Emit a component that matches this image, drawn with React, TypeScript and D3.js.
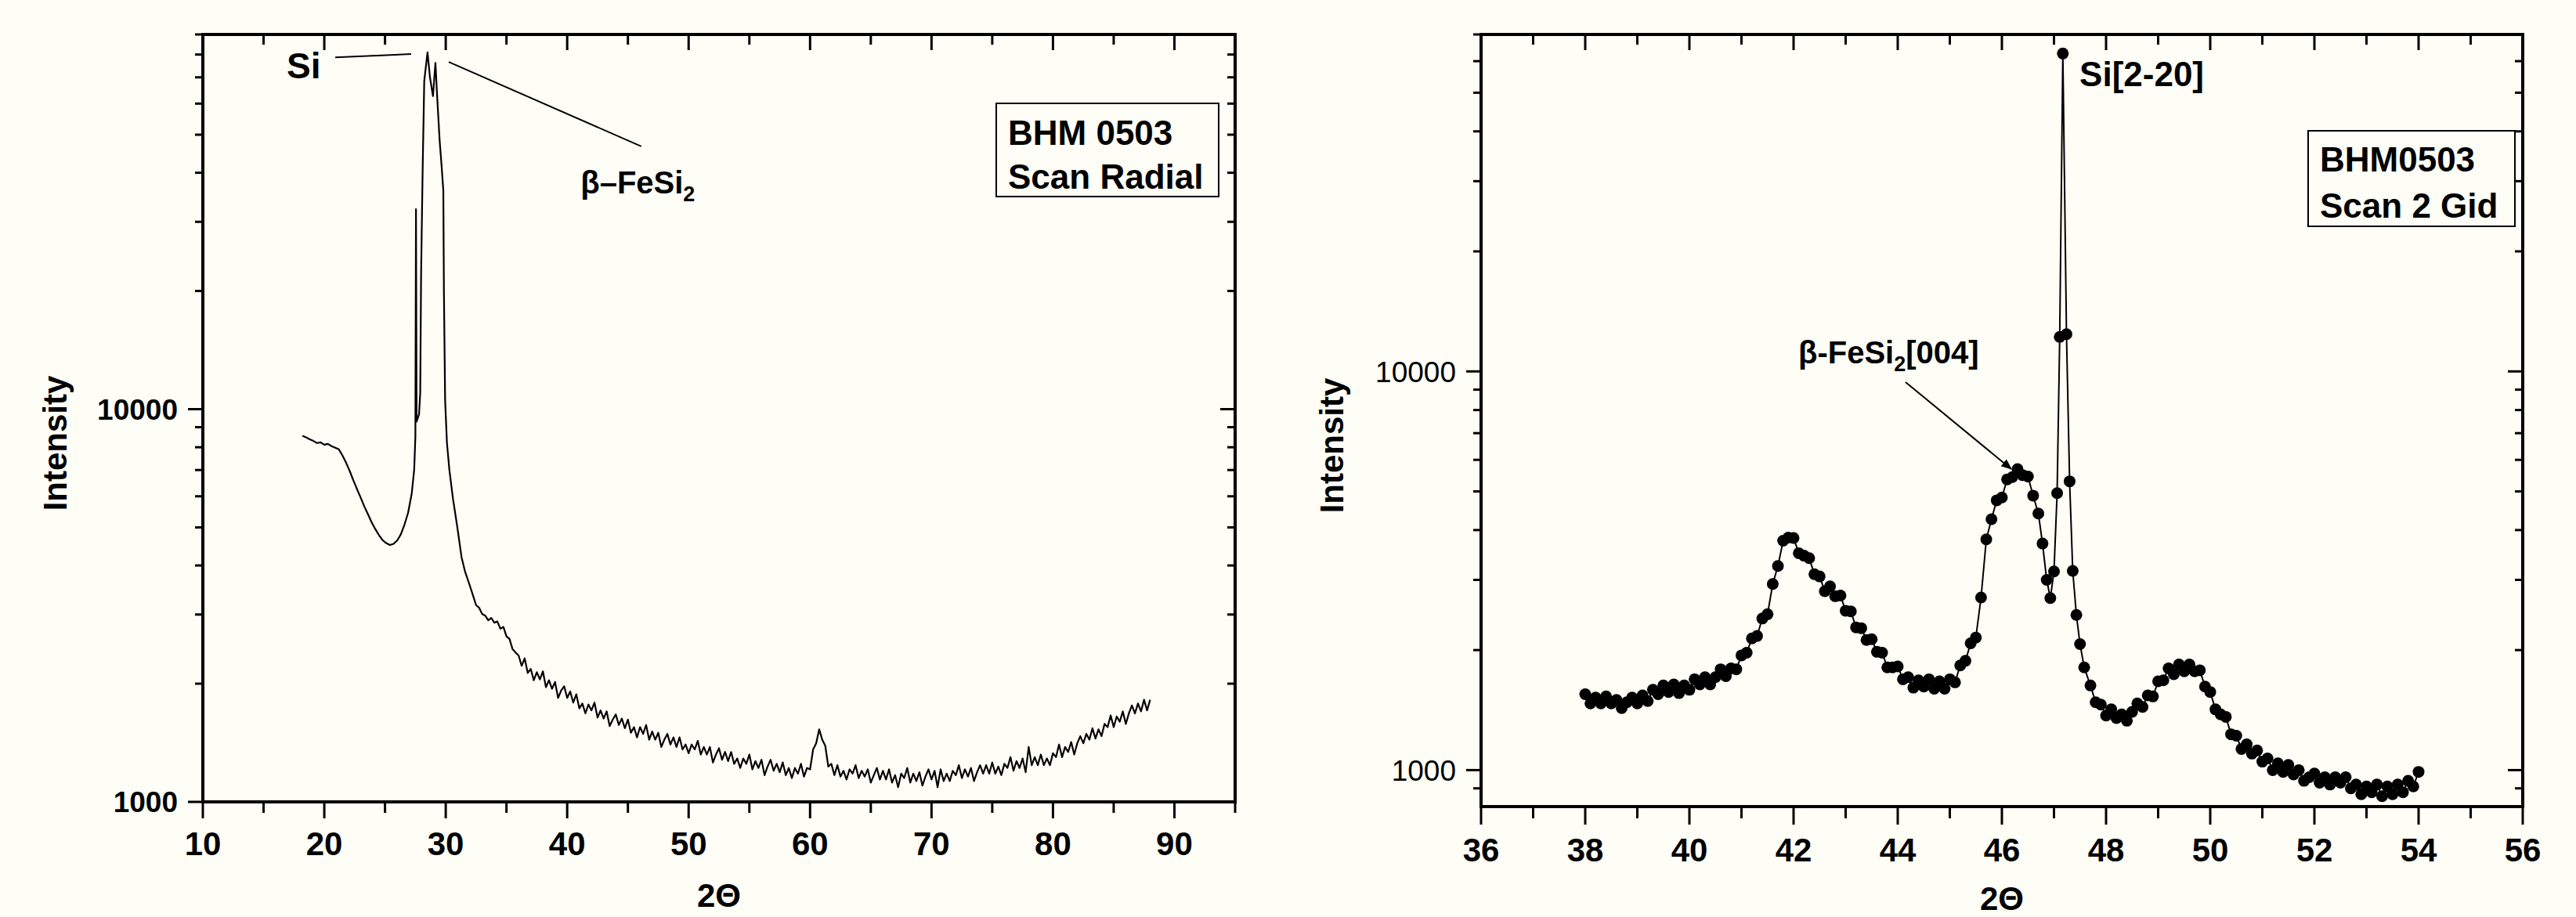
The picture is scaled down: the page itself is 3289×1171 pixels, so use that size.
import React from "react";
import * as d3 from "d3";

const W = 3289;
const H = 1171;
const BG = "#fefef6";
const FONT = "'Liberation Sans', Arial, Helvetica, sans-serif";

// left panel: radial scan (2θ, intensity)
const radialScan: [number, number][] = [
  [18.2, 8560], [18.5, 8480], [18.8, 8380], [19.1, 8300], [19.4, 8200], [19.7, 8230],
  [20.0, 8120], [20.3, 8160], [20.6, 8050], [20.9, 7980], [21.2, 7900], [21.5, 7620],
  [21.8, 7300], [22.1, 6950], [22.4, 6580], [22.7, 6250], [23.0, 5950], [23.3, 5650],
  [23.6, 5400], [23.9, 5150], [24.2, 4950], [24.5, 4780], [24.8, 4640], [25.1, 4560],
  [25.4, 4510], [25.7, 4540], [26.0, 4630], [26.3, 4800], [26.6, 5080], [26.9, 5450],
  [27.2, 6100], [27.4, 7000], [27.5, 8500], [27.55, 32300], [27.6, 9300], [27.8, 9700],
  [27.9, 11000], [27.97, 22000], [28.1, 41000], [28.23, 68500], [28.5, 81000], [28.7, 70000],
  [28.95, 62700], [29.15, 76200], [29.3, 62000], [29.5, 48200], [29.65, 42000], [29.8, 36100],
  [29.85, 20000], [29.95, 10500], [30.1, 8200], [30.3, 7000], [30.6, 5900], [30.94, 5040],
  [31.3, 4200], [31.6, 3850], [31.95, 3580], [32.25, 3350], [32.5, 3170], [32.75, 3120],
  [33.0, 3010], [33.25, 2980], [33.5, 2900], [33.75, 2940], [34.0, 2860], [34.25, 2880],
  [34.5, 2760], [34.75, 2790], [35.0, 2640], [35.25, 2600], [35.5, 2450], [35.75, 2400],
  [36.0, 2360], [36.25, 2220], [36.5, 2320], [36.75, 2130], [37.0, 2180], [37.25, 2040],
  [37.5, 2140], [37.75, 2050], [38.0, 2150], [38.25, 1960], [38.5, 2040], [38.75, 1940],
  [39.0, 2020], [39.25, 1840], [39.5, 1920], [39.75, 1970], [40.0, 1840], [40.25, 1910],
  [40.5, 1790], [40.75, 1880], [41.0, 1730], [41.25, 1780], [41.5, 1680], [41.75, 1770],
  [42.0, 1710], [42.25, 1790], [42.5, 1640], [42.75, 1710], [43.0, 1630], [43.25, 1700],
  [43.5, 1560], [43.75, 1620], [44.0, 1670], [44.25, 1570], [44.5, 1630], [44.75, 1540],
  [45.0, 1620], [45.25, 1500], [45.5, 1550], [45.75, 1460], [46.0, 1550], [46.25, 1490],
  [46.5, 1570], [46.75, 1440], [47.0, 1510], [47.25, 1440], [47.5, 1500], [47.75, 1380],
  [48.0, 1440], [48.25, 1490], [48.5, 1400], [48.75, 1460], [49.0, 1380], [49.25, 1460],
  [49.5, 1360], [49.75, 1400], [50.0, 1330], [50.25, 1400], [50.5, 1360], [50.75, 1430],
  [51.0, 1320], [51.25, 1380], [51.5, 1320], [51.75, 1380], [52.0, 1260], [52.25, 1320],
  [52.5, 1370], [52.75, 1280], [53.0, 1340], [53.25, 1270], [53.5, 1340], [53.75, 1250],
  [54.0, 1290], [54.25, 1220], [54.5, 1290], [54.75, 1250], [55.0, 1320], [55.25, 1210],
  [55.5, 1270], [55.75, 1220], [56.0, 1280], [56.25, 1170], [56.5, 1230], [56.75, 1280],
  [57.0, 1200], [57.25, 1250], [57.5, 1190], [57.75, 1260], [58.0, 1170], [58.25, 1220],
  [58.5, 1150], [58.75, 1220], [59.0, 1180], [59.25, 1250], [59.5, 1160], [59.75, 1220],
  [60.0, 1210], [60.25, 1360], [60.5, 1410], [60.75, 1530], [61.0, 1440], [61.25, 1390],
  [61.5, 1230], [61.75, 1250], [62.0, 1170], [62.25, 1240], [62.5, 1160], [62.75, 1200],
  [63.0, 1140], [63.25, 1210], [63.5, 1180], [63.75, 1240], [64.0, 1150], [64.25, 1200],
  [64.5, 1160], [64.75, 1210], [65.0, 1120], [65.25, 1170], [65.5, 1220], [65.75, 1140],
  [66.0, 1200], [66.25, 1140], [66.5, 1210], [66.75, 1120], [67.0, 1170], [67.25, 1090],
  [67.5, 1180], [67.75, 1150], [68.0, 1220], [68.25, 1120], [68.5, 1180], [68.75, 1130],
  [69.0, 1190], [69.25, 1100], [69.5, 1160], [69.75, 1210], [70.0, 1140], [70.25, 1200],
  [70.5, 1090], [70.75, 1210], [71.0, 1130], [71.25, 1180], [71.5, 1130], [71.75, 1200],
  [72.0, 1170], [72.25, 1240], [72.5, 1150], [72.75, 1210], [73.0, 1160], [73.25, 1220],
  [73.5, 1130], [73.75, 1190], [74.0, 1240], [74.25, 1180], [74.5, 1240], [74.75, 1180],
  [75.0, 1260], [75.25, 1180], [75.5, 1230], [75.75, 1170], [76.0, 1250], [76.25, 1220],
  [76.5, 1300], [76.75, 1200], [77.0, 1270], [77.25, 1220], [77.5, 1290], [77.75, 1190],
  [78.0, 1380], [78.25, 1240], [78.5, 1300], [78.75, 1240], [79.0, 1320], [79.25, 1240],
  [79.5, 1290], [79.75, 1240], [80.0, 1330], [80.25, 1300], [80.5, 1400], [80.75, 1300],
  [81.0, 1380], [81.25, 1340], [81.5, 1420], [81.75, 1320], [82.0, 1410], [82.25, 1470],
  [82.5, 1410], [82.75, 1490], [83.0, 1440], [83.25, 1540], [83.5, 1450], [83.75, 1530],
  [84.0, 1470], [84.25, 1580], [84.5, 1550], [84.75, 1660], [85.0, 1550], [85.25, 1650],
  [85.5, 1600], [85.75, 1700], [86.0, 1580], [86.25, 1680], [86.5, 1760], [86.75, 1680],
  [87.0, 1780], [87.25, 1700], [87.5, 1820], [87.75, 1710], [88.0, 1820],
];
const radialXTicks = [10, 20, 30, 40, 50, 60, 70, 80, 90];
const radialXMinor = [15, 25, 35, 45, 55, 65, 75, 85, 95];

// right panel: grazing incidence scan (2θ, intensity)
const gidScan: [number, number][] = [
  [38.0, 1550], [38.1, 1470], [38.2, 1520], [38.3, 1470], [38.4, 1530], [38.5, 1470],
  [38.6, 1500], [38.7, 1430], [38.8, 1480], [38.9, 1520], [39.0, 1470], [39.1, 1540],
  [39.2, 1490], [39.3, 1590], [39.4, 1550], [39.5, 1630], [39.6, 1570], [39.7, 1640],
  [39.8, 1560], [39.9, 1630], [40.0, 1590], [40.1, 1690], [40.2, 1640], [40.3, 1710],
  [40.4, 1640], [40.5, 1710], [40.6, 1790], [40.7, 1720], [40.8, 1800], [40.9, 1790],
  [41.0, 1940], [41.1, 1970], [41.2, 2140], [41.3, 2170], [41.4, 2400], [41.5, 2460],
  [41.6, 2930], [41.7, 3250], [41.8, 3760], [41.9, 3830], [42.0, 3820], [42.1, 3500],
  [42.2, 3450], [42.3, 3400], [42.4, 3100], [42.5, 3060], [42.6, 2810], [42.7, 2890],
  [42.8, 2730], [42.9, 2740], [43.0, 2510], [43.1, 2500], [43.2, 2280], [43.3, 2270],
  [43.4, 2120], [43.5, 2130], [43.6, 1980], [43.7, 1970], [43.8, 1810], [43.9, 1810],
  [44.0, 1820], [44.1, 1690], [44.2, 1710], [44.3, 1610], [44.4, 1680], [44.5, 1620],
  [44.6, 1690], [44.7, 1600], [44.8, 1670], [44.9, 1600], [45.0, 1690], [45.1, 1660],
  [45.2, 1830], [45.3, 1880], [45.4, 2080], [45.5, 2150], [45.6, 2710], [45.7, 3790],
  [45.8, 4260], [45.9, 4750], [46.0, 4830], [46.1, 5360], [46.2, 5430], [46.3, 5690],
  [46.4, 5490], [46.5, 5450], [46.6, 4880], [46.7, 4400], [46.78, 3700], [46.86, 3000],
  [46.93, 2700], [47.0, 3150], [47.06, 4950], [47.11, 12200], [47.17, 62700], [47.24, 12400],
  [47.3, 5300], [47.36, 3160], [47.43, 2450], [47.5, 2070], [47.58, 1810], [47.7, 1630],
  [47.8, 1480], [47.9, 1460], [48.0, 1370], [48.1, 1420], [48.2, 1350], [48.3, 1380],
  [48.4, 1330], [48.5, 1400], [48.6, 1470], [48.7, 1440], [48.8, 1540], [48.9, 1530],
  [49.0, 1670], [49.1, 1680], [49.2, 1800], [49.3, 1740], [49.4, 1840], [49.5, 1770],
  [49.6, 1840], [49.7, 1770], [49.8, 1780], [49.9, 1620], [50.0, 1570], [50.1, 1420],
  [50.2, 1380], [50.3, 1360], [50.4, 1230], [50.5, 1220], [50.6, 1130], [50.7, 1160],
  [50.8, 1100], [50.9, 1120], [51.0, 1050], [51.1, 1070], [51.2, 1000], [51.3, 1040],
  [51.4, 990], [51.5, 1030], [51.6, 975], [51.7, 1000], [51.8, 940], [51.9, 960],
  [52.0, 980], [52.1, 930], [52.2, 960], [52.3, 920], [52.4, 960], [52.5, 930],
  [52.6, 960], [52.7, 900], [52.8, 920], [52.9, 870], [53.0, 910], [53.1, 880],
  [53.2, 920], [53.3, 860], [53.4, 910], [53.5, 870], [53.6, 920], [53.7, 880],
  [53.8, 940], [53.9, 910], [54.0, 990],
];
const gidXTicks = [36, 38, 40, 42, 44, 46, 48, 50, 52, 54, 56];
const gidXMinor = [37, 39, 41, 43, 45, 47, 49, 51, 53, 55];

const yTickLabels = [1000, 10000];

type Frame = { left: number; top: number; right: number; bottom: number };
type Scales = {
  x: d3.ScaleLinear<number, number>;
  y: d3.ScaleLogarithmic<number, number>;
};

function Panel(props: {
  frame: Frame;
  xDomain: [number, number];
  yDomain: [number, number];
  xTicks: number[];
  xMinor: number[];
  xTickLen: [number, number];
  xLabelY: number;
  yLabelWeight: string | number;
  titleY: number;
  intensityX: number;
  legend: { x: number; y: number; w: number; h: number; lines: string[]; baselines: number[] };
  children: (s: Scales) => React.ReactNode;
}) {
  const { frame, xDomain, yDomain, xTicks, xMinor, xTickLen } = props;
  const x = d3.scaleLinear().domain(xDomain).range([frame.left, frame.right]);
  const y = d3.scaleLog().domain(yDomain).range([frame.bottom, frame.top]);
  const yTicks = y.ticks();
  const isMajor = (t: number) => Math.abs(Math.log10(t) - Math.round(Math.log10(t))) < 1e-9;
  const cx = (frame.left + frame.right) / 2;
  const cy = (frame.top + frame.bottom) / 2;
  const lg = props.legend;

  return (
    <g>
      <rect
        x={frame.left}
        y={frame.top}
        width={frame.right - frame.left}
        height={frame.bottom - frame.top}
        fill="none"
        stroke="#000"
        strokeWidth={4}
      />
      <g stroke="#000" strokeWidth={3}>
        {xTicks.map((t) => (
          <g key={"xm" + t}>
            <line x1={x(t)} x2={x(t)} y1={frame.bottom} y2={frame.bottom + xTickLen[0]} />
            <line x1={x(t)} x2={x(t)} y1={frame.top} y2={frame.top + 20} />
          </g>
        ))}
        {xMinor.map((t) => (
          <g key={"xn" + t}>
            <line x1={x(t)} x2={x(t)} y1={frame.bottom} y2={frame.bottom + xTickLen[1]} />
            <line x1={x(t)} x2={x(t)} y1={frame.top} y2={frame.top + 13} />
          </g>
        ))}
        {yTicks.map((t) => {
          const len = isMajor(t) ? 19 : 10;
          return (
            <g key={"y" + t}>
              <line x1={frame.left - len} x2={frame.left} y1={y(t)} y2={y(t)} />
              <line x1={frame.right - len} x2={frame.right} y1={y(t)} y2={y(t)} />
            </g>
          );
        })}
      </g>
      <g fontFamily={FONT} fontWeight="bold" fontSize={42} textAnchor="middle" fill="#000">
        {xTicks.map((t) => (
          <text key={"xl" + t} x={x(t)} y={props.xLabelY}>
            {t}
          </text>
        ))}
      </g>
      <g fontFamily={FONT} fontWeight={props.yLabelWeight} fontSize={37} textAnchor="end" fill="#000">
        {yTickLabels.map((t) => (
          <text key={"yl" + t} x={frame.left - 32} y={y(t)} dy="0.36em">
            {t}
          </text>
        ))}
      </g>
      <text
        x={cx}
        y={props.titleY}
        fontFamily={FONT}
        fontWeight="bold"
        fontSize={42}
        textAnchor="middle"
      >
        2Θ
      </text>
      <text
        transform={`translate(${props.intensityX},${cy + 32}) rotate(-90)`}
        fontFamily={FONT}
        fontWeight="bold"
        fontSize={42}
        textAnchor="middle"
        dy="0.35em"
      >
        Intensity
      </text>
      <rect x={lg.x} y={lg.y} width={lg.w} height={lg.h} fill="none" stroke="#000" strokeWidth={2} />
      <g fontFamily={FONT} fontWeight="bold" fontSize={44}>
        {lg.lines.map((s, i) => (
          <text key={s} x={lg.x + 15} y={lg.baselines[i]}>
            {s}
          </text>
        ))}
      </g>
      {props.children({ x, y })}
    </g>
  );
}

export default function App() {
  const radialFrame = { left: 259, top: 44, right: 1577, bottom: 1024 };
  const gidFrame = { left: 1891, top: 44, right: 3221, bottom: 1030 };

  return (
    <svg
      width={W}
      height={H}
      style={{ position: "absolute", left: 0, top: 0, display: "block" }}
    >
      <defs>
        <marker id="arrow" viewBox="0 0 10 10" refX="9" refY="5" markerWidth="7" markerHeight="7" orient="auto">
          <path d="M0,1 L10,5 L0,9 Z" fill="#000" />
        </marker>
      </defs>
      <rect width={W} height={H} fill={BG} />

      <Panel
        frame={radialFrame}
        xDomain={[10, 95]}
        yDomain={[1000, 90000]}
        xTicks={radialXTicks}
        xMinor={radialXMinor}
        xTickLen={[21, 14]}
        xLabelY={1092}
        yLabelWeight="bold"
        titleY={1158}
        intensityX={70}
        legend={{ x: 1272, y: 132, w: 284, h: 119, lines: ["BHM 0503", "Scan Radial"], baselines: [185, 241] }}
      >
        {({ x, y }) => {
          const line = d3
            .line<[number, number]>()
            .x((d) => x(d[0]))
            .y((d) => y(d[1]));
          return (
            <g>
              <path d={line(radialScan) || ""} fill="none" stroke="#000" strokeWidth={2.2} strokeLinejoin="round" />
              <line x1={x(20.9)} y1={y(78700)} x2={x(27.15)} y2={y(80200)} stroke="#000" strokeWidth={2} />
              <text x={x(16.9)} y={y(69500)} fontFamily={FONT} fontWeight="bold" fontSize={46}>
                Si
              </text>
              <line x1={x(30.25)} y1={y(76600)} x2={x(46.1)} y2={y(46700)} stroke="#000" strokeWidth={2} />
              <text x={x(41.1)} y={y(35400)} fontFamily={FONT} fontWeight="bold" fontSize={40}>
                β–FeSi
                <tspan fontSize={27} dy={10}>
                  2
                </tspan>
              </text>
            </g>
          );
        }}
      </Panel>

      <Panel
        frame={gidFrame}
        xDomain={[36, 56]}
        yDomain={[810, 70000]}
        xTicks={gidXTicks}
        xMinor={gidXMinor}
        xTickLen={[23, 15]}
        xLabelY={1100}
        yLabelWeight="normal"
        titleY={1162}
        intensityX={1700}
        legend={{ x: 2947, y: 167, w: 264, h: 122, lines: ["BHM0503", "Scan 2 Gid"], baselines: [219, 278] }}
      >
        {({ x, y }) => {
          const line = d3
            .line<[number, number]>()
            .x((d) => x(d[0]))
            .y((d) => y(d[1]));
          return (
            <g>
              <path d={line(gidScan) || ""} fill="none" stroke="#000" strokeWidth={2} />
              {gidScan.map((d, i) => (
                <circle key={i} cx={x(d[0])} cy={y(d[1])} r={7.5} fill="#000" />
              ))}
              <text x={x(47.49)} y={y(52000)} fontFamily={FONT} fontWeight="bold" fontSize={44}>
                Si[2-20]
              </text>
              <text x={x(42.09)} y={y(10480)} fontFamily={FONT} fontWeight="bold" fontSize={40}>
                β-FeSi
                <tspan fontSize={27} dy={10}>
                  2
                </tspan>
                <tspan dy={-10}>[004]</tspan>
              </text>
              <line
                x1={x(44.15)}
                y1={y(9400)}
                x2={x(46.18)}
                y2={y(5690)}
                stroke="#000"
                strokeWidth={2}
                markerEnd="url(#arrow)"
              />
            </g>
          );
        }}
      </Panel>
    </svg>
  );
}
